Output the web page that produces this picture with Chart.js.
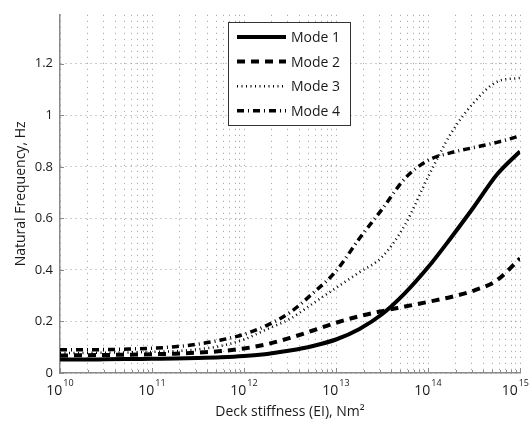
<!DOCTYPE html>
<html>
<head>
<meta charset="utf-8">
<script src="https://cdn.jsdelivr.net/npm/chart.js@4"></script>
<style>
  html, body { margin: 0; padding: 0; background: #fff; }
  #chart { display: block; }
</style>
</head>
<body>
<canvas id="chart" width="531" height="421"></canvas>
<script>
// Deck stiffness (EI), quarter-decade samples from 1e10 to 1e15
const stiffness = [1e10, 1.78e10, 3.16e10, 5.62e10, 1e11, 1.78e11, 3.16e11, 5.62e11,
    1e12, 1.78e12, 3.16e12, 5.62e12, 1e13, 1.78e13, 3.16e13, 5.62e13,
    1e14, 1.78e14, 3.16e14, 5.62e14, 1e15];

const mode1 = [0.052, 0.052, 0.053, 0.054, 0.055, 0.056, 0.058, 0.061, 0.066, 0.074, 0.087,
    0.105, 0.13, 0.17, 0.228, 0.31, 0.41, 0.525, 0.645, 0.77, 0.86];
const mode2 = [0.068, 0.069, 0.07, 0.071, 0.073, 0.075, 0.079, 0.085, 0.095, 0.112, 0.136,
    0.165, 0.195, 0.22, 0.24, 0.258, 0.276, 0.295, 0.32, 0.36, 0.445];
const mode3 = [0.078, 0.078, 0.079, 0.08, 0.082, 0.085, 0.092, 0.105, 0.13, 0.17, 0.21,
    0.27, 0.33, 0.39, 0.45, 0.575, 0.76, 0.93, 1.05, 1.13, 1.145];
const mode4 = [0.09, 0.09, 0.091, 0.093, 0.096, 0.102, 0.112, 0.128, 0.15, 0.185, 0.235,
    0.31, 0.395, 0.52, 0.635, 0.755, 0.825, 0.855, 0.875, 0.895, 0.92];

const seriesNames = ['Mode 1', 'Mode 2', 'Mode 3', 'Mode 4'];
const xExponents = [10, 11, 12, 13, 14, 15];   // labelled decades
const yMax = 1.39;

const FONT = '"Open Sans", "DejaVu Sans", sans-serif';
const TEXT = '#1a1a1a';

function points(ys) {
    return ys.map((y, i) => ({ x: stiffness[i], y: y }));
}

// grid / tick positions on the log axis: 1..9 x 10^n
const logTicks = [];
xExponents.forEach(e => {
    if (e === xExponents[xExponents.length - 1]) {
        logTicks.push(Math.pow(10, e));
        return;
    }
    for (let m = 1; m <= 9; m++) logTicks.push(m * Math.pow(10, e));
});

const lineStyles = [
    { borderWidth: 4, borderDash: [] },
    { borderWidth: 4, borderDash: [8, 6] },
    { borderWidth: 2.5, borderDash: [1, 3.5] },
    { borderWidth: 3.5, borderDash: [7, 4, 1, 4] }
];

const datasets = [mode1, mode2, mode3, mode4].map((ys, i) => ({
    label: seriesNames[i],
    data: points(ys),
    borderColor: '#000',
    backgroundColor: '#000',
    borderWidth: lineStyles[i].borderWidth,
    borderDash: lineStyles[i].borderDash,
    pointRadius: 0,
    fill: false,
    cubicInterpolationMode: 'monotone'
}));

// inward tick marks, power-of-ten labels and the boxed legend
const decorations = {
    id: 'decorations',
    afterDraw(chart) {
        const ctx = chart.ctx;
        const xs = chart.scales.x;
        const ys = chart.scales.y;
        const area = chart.chartArea;

        ctx.save();
        ctx.strokeStyle = '#8a8a8a';
        ctx.lineWidth = 1;
        logTicks.forEach(v => {
            const px = Math.round(xs.getPixelForValue(v)) + 0.5;
            const major = Math.abs(Math.log10(v) - Math.round(Math.log10(v))) < 1e-9;
            ctx.beginPath();
            ctx.moveTo(px, area.bottom);
            ctx.lineTo(px, area.bottom - (major ? 5 : 3));
            ctx.stroke();
        });
        ys.ticks.forEach(t => {
            const py = Math.round(ys.getPixelForValue(t.value)) + 0.5;
            ctx.beginPath();
            ctx.moveTo(area.left, py);
            ctx.lineTo(area.left + 4, py);
            ctx.stroke();
        });

        // x labels: 10 with raised exponent
        ctx.fillStyle = TEXT;
        ctx.textBaseline = 'middle';
        ctx.textAlign = 'left';
        xExponents.forEach(e => {
            const px = xs.getPixelForValue(Math.pow(10, e));
            ctx.font = '14px ' + FONT;
            const wBase = ctx.measureText('10').width;
            ctx.font = '9px ' + FONT;
            const wExp = ctx.measureText(String(e)).width;
            let x0 = px - (wBase + wExp + 1) / 2;
            x0 = Math.min(x0, chart.width - 2 - (wBase + wExp + 1));
            ctx.font = '14px ' + FONT;
            ctx.fillText('10', x0, area.bottom + 18);
            ctx.font = '9px ' + FONT;
            ctx.fillText(String(e), x0 + wBase + 1, area.bottom + 10);
        });

        // legend
        const box = { left: 228.5, top: 22.5, right: 350.5, bottom: 125.5 };
        ctx.fillStyle = '#fff';
        ctx.fillRect(box.left, box.top, box.right - box.left, box.bottom - box.top);
        ctx.strokeStyle = '#333';
        ctx.lineWidth = 1;
        ctx.setLineDash([]);
        ctx.strokeRect(box.left, box.top, box.right - box.left, box.bottom - box.top);

        chart.data.datasets.forEach((ds, i) => {
            const y = 37 + i * 24.6;
            ctx.save();
            ctx.strokeStyle = ds.borderColor;
            ctx.lineWidth = ds.borderWidth;
            ctx.setLineDash(ds.borderDash);
            ctx.beginPath();
            ctx.moveTo(237, y);
            ctx.lineTo(286, y);
            ctx.stroke();
            ctx.restore();
            ctx.fillStyle = TEXT;
            ctx.font = '14px ' + FONT;
            ctx.textAlign = 'left';
            ctx.textBaseline = 'middle';
            ctx.fillText(ds.label, 291, y + 1);
        });
        ctx.restore();
    }
};

new Chart(document.getElementById('chart').getContext('2d'), {
    type: 'line',
    data: { datasets: datasets },
    options: {
        responsive: false,
        devicePixelRatio: 1,
        animation: false,
        layout: { padding: { top: 12, right: 11, left: 0, bottom: 0 } },
        plugins: {
            legend: { display: false },
            tooltip: { enabled: false }
        },
        scales: {
            x: {
                type: 'logarithmic',
                min: 1e10,
                max: 1e15,
                afterBuildTicks: scale => {
                    scale.ticks = logTicks.map(v => ({ value: v }));
                },
                afterFit: scale => { scale.height = 48; },
                ticks: { display: false },
                grid: { color: '#9a9a9a', lineWidth: 1, drawTicks: false },
                border: { display: true, color: '#8a8a8a', width: 1.5, dash: [1, 5] },
                title: {
                    display: true,
                    text: 'Deck stiffness (EI), Nm²',
                    color: TEXT,
                    font: { family: FONT, size: 14 },
                    padding: { top: 0, bottom: 1 }
                }
            },
            y: {
                min: 0,
                max: yMax,
                afterFit: scale => { scale.width = 60; },
                ticks: {
                    stepSize: 0.2,
                    includeBounds: false,
                    padding: 7,
                    color: TEXT,
                    font: { family: FONT, size: 13 },
                    callback: v => String(Number(v.toFixed(1)))
                },
                grid: { color: '#9a9a9a', lineWidth: 1, drawTicks: false },
                border: { display: true, color: '#8a8a8a', width: 1.5, dash: [1, 4] },
                title: {
                    display: true,
                    text: 'Natural Frequency, Hz',
                    color: TEXT,
                    font: { family: FONT, size: 14 },
                    padding: { top: 13, bottom: 0 }
                }
            }
        }
    },
    plugins: [decorations]
});
</script>
</body>
</html>
